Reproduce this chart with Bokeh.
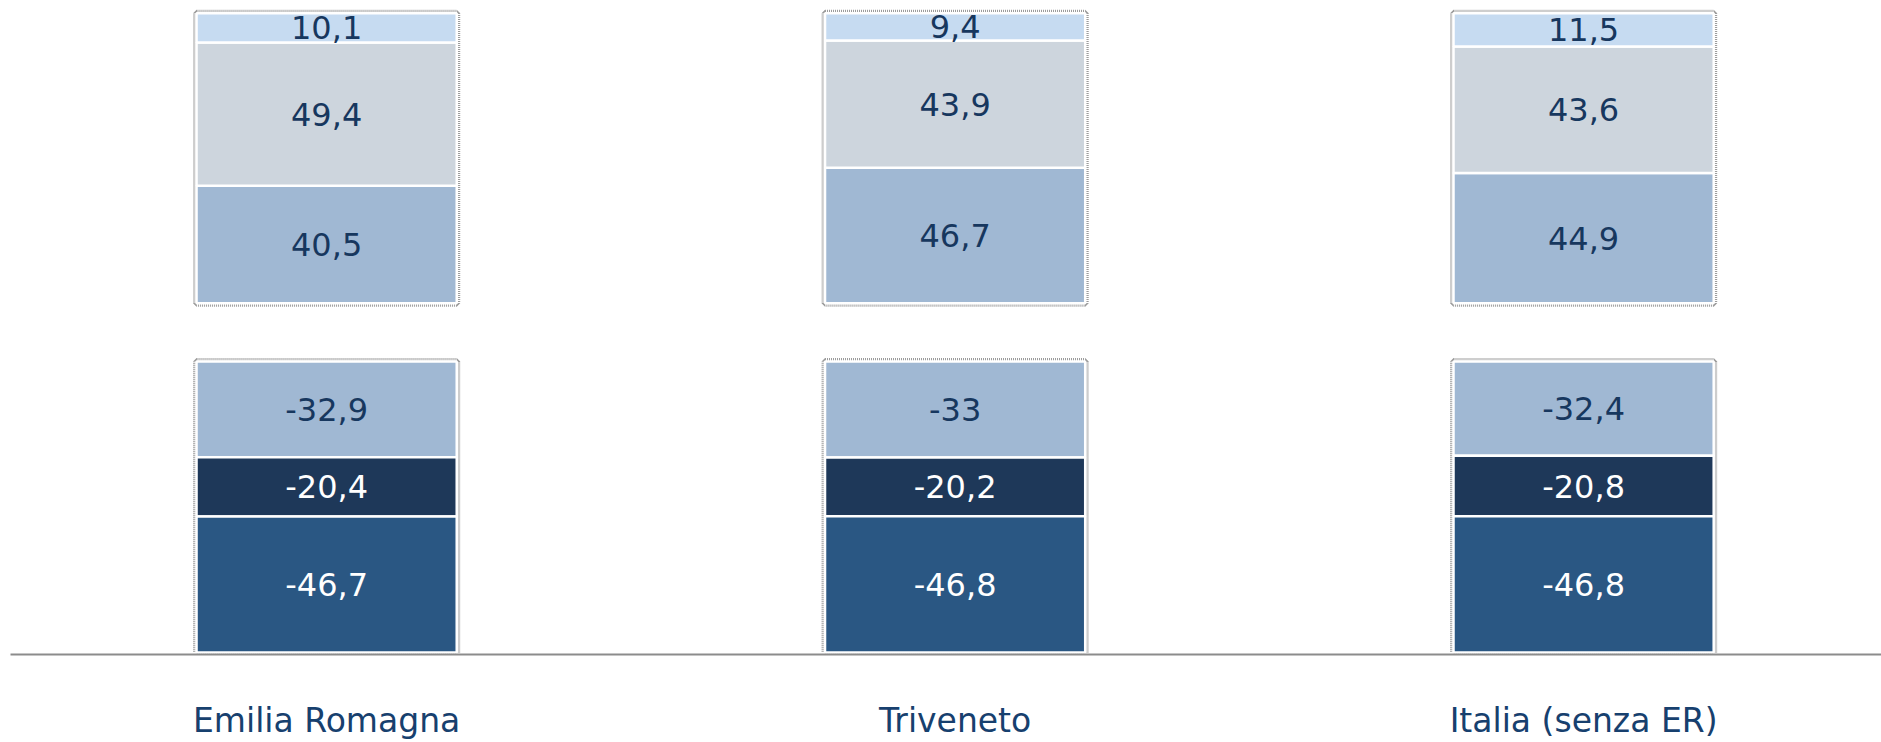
import numpy as np
from bokeh.plotting import figure
from bokeh.models import Range1d, FixedTicker, ColumnDataSource
from bokeh.layouts import column
from bokeh.embed import file_html
from bokeh.resources import INLINE
from bokeh.core.properties import value

# ---- data -------------------------------------------------------------
categories = ["Emilia Romagna", "Triveneto", "Italia (senza ER)"]
pos_low = [40.5, 46.7, 44.9]
pos_mid = [49.4, 43.9, 43.6]
pos_high = [10.1, 9.4, 11.5]
neg_first = [-32.9, -33.0, -32.4]
neg_second = [-20.4, -20.2, -20.8]
neg_third = [-46.7, -46.8, -46.8]

pos_series = [pos_low, pos_mid, pos_high]
neg_series = [neg_first, neg_second, neg_third]
pos_colors = ["#A0B8D3", "#CDD5DD", "#C6DBF1"]
neg_colors = ["#A0B8D3", "#1E3859", "#2A5783"]
pos_text_colors = ["#17375E", "#17375E", "#17375E"]
neg_text_colors = ["#17375E", "#FFFFFF", "#FFFFFF"]

FONT = "DejaVu Sans"
BAR_W = 0.414
xpos = np.arange(len(categories), dtype=float)
xr = Range1d(-0.503, 2.474)


def fmt(v):
    return f"{v:g}".replace(".", ",")


def add_stack(p, series, colors, tcolors):
    data = {"x": xpos}
    names = []
    for i, s in enumerate(series):
        data[f"s{i}"] = s
        names.append(f"s{i}")
    src = ColumnDataSource(data)
    totals = np.sum(np.array(series), axis=0)
    # shadow-like dotted frame
    p.quad(left=xpos - BAR_W / 2, right=xpos + BAR_W / 2,
           bottom=np.zeros_like(totals), top=totals,
           fill_color=None, line_color="#9C9C9C", line_width=7,
           line_dash="1 1")
    p.vbar_stack(names, x="x", width=BAR_W, color=colors, source=src,
                 line_color="white", line_width=2.5)
    # labels
    tx, ty, tt, tc = [], [], [], []
    cum = np.zeros(len(categories))
    for s, col in zip(series, tcolors):
        s = np.array(s)
        mid = cum + s / 2
        cum = cum + s
        for j in range(len(categories)):
            tx.append(xpos[j])
            ty.append(mid[j])
            tt.append(fmt(s[j]))
            tc.append(col)
    p.text(x=tx, y=ty, text=tt, text_color=tc, text_align="center",
           text_baseline="middle", text_font=value(FONT),
           text_font_size="32px")


def base_fig(height, y_range, x_axis_location, border_top, border_bottom):
    p = figure(width=1881, height=height, x_range=xr, y_range=y_range,
               output_backend="svg", toolbar_location=None,
               x_axis_location=x_axis_location, y_axis_location=None,
               min_border_left=10, min_border_right=0,
               min_border_top=border_top, min_border_bottom=border_bottom)
    p.xgrid.visible = False
    p.ygrid.visible = False
    p.outline_line_color = None
    p.background_fill_color = "white"
    p.border_fill_color = "white"
    return p


# ---- upper panel (positive shares) -----------------------------------
p1 = base_fig(316, Range1d(-1.5, 101.6), None, 8, 9)
add_stack(p1, pos_series, pos_colors, pos_text_colors)

# ---- lower panel (negative shares) -----------------------------------
p2 = base_fig(426, Range1d(-100.7, 1.4), "below", 41, 88)
add_stack(p2, neg_series, neg_colors, neg_text_colors)

ax = p2.xaxis[0]
ax.ticker = FixedTicker(ticks=list(xpos))
ax.major_label_overrides = {float(i): c for i, c in zip(xpos, categories)}
ax.major_label_overrides.update({int(i): c for i, c in zip(xpos, categories)})
ax.axis_line_color = "#8C8C8C"
ax.axis_line_width = 2
ax.major_tick_line_color = None
ax.minor_tick_line_color = None
ax.major_tick_out = 0
ax.major_tick_in = 0
ax.major_label_standoff = 46
ax.major_label_text_font = FONT
ax.major_label_text_font_size = "33px"
ax.major_label_text_color = "#17406E"

layout = column(p1, p2, spacing=0)

open("out.html", "w").write(file_html(layout, INLINE))
